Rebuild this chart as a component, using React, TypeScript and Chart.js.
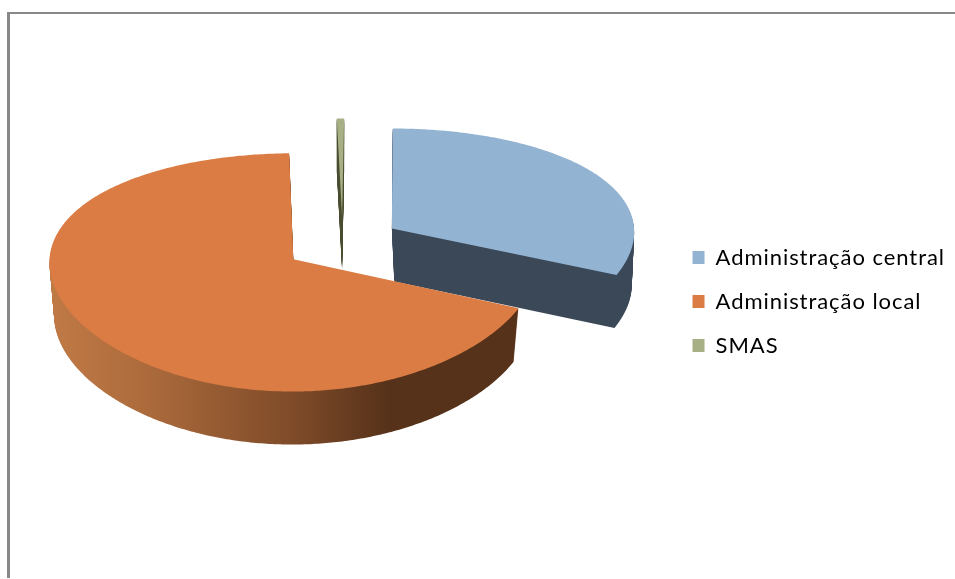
import React, { useEffect, useRef } from "react";
import { Chart, registerables } from "chart.js";

Chart.register(...registerables);

const categories = ["Administração central", "Administração local", "SMAS"];
const shares = [31.4, 68.1, 0.5];
const topColors = ["#93b3d2", "#da7c43", "#a7b085"];
const wallStops = [
  [[0, "#3b4857"], [1, "#3b4857"]],
  [[0, "#c07a46"], [0.2, "#ad6b3c"], [0.53, "#7d4a28"], [0.72, "#57321a"], [1, "#57321a"]],
  [[0, "#4a4c30"], [1, "#4a4c30"]],
];

const EXPLODE = 59;
const RADIUS = 243;
const SCREEN_CX = 342.5;
const SCREEN_CY = 243.5;
const TILT = 0.47;
const PERSPECTIVE_Y = 0.00045;
const PERSPECTIVE_X = 0.0001;
const DEPTH = 53;
const SHRINK = 0.02;
const LEGEND_SPACING = "0.95px";

const pie3d = {
  id: "pie3d",
  beforeDatasetsDraw(chart: any) {
    const ctx = chart.ctx;
    const arcs = chart.getDatasetMeta(0).data;
    const polys = arcs.map((arc: any) => {
      const { startAngle, endAngle, outerRadius } = arc.getProps(["startAngle", "endAngle", "outerRadius"], true);
      const mid = (startAngle + endAngle) / 2;
      const ax = Math.cos(mid) * EXPLODE;
      const ay = Math.sin(mid) * EXPLODE;
      const project = (X: number, Y: number) => [
        SCREEN_CX + X / (1 - PERSPECTIVE_X * Y),
        SCREEN_CY + (TILT * Y) / (1 - PERSPECTIVE_Y * Y),
      ];
      const pts = [project(ax, ay)];
      const steps = Math.max(2, Math.ceil((endAngle - startAngle) * 90));
      for (let i = 0; i <= steps; i++) {
        const a = startAngle + ((endAngle - startAngle) * i) / steps;
        pts.push(project(ax + Math.cos(a) * outerRadius, ay + Math.sin(a) * outerRadius));
      }
      return pts;
    });
    const trace = (pts: number[][], dy: number, f: number, c: number) => {
      ctx.beginPath();
      pts.forEach((p, i) => {
        const px = c + (p[0] - c) * f;
        if (i === 0) ctx.moveTo(px, p[1] + dy);
        else ctx.lineTo(px, p[1] + dy);
      });
      ctx.closePath();
    };
    const order = [2, 0, 1];
    ctx.save();
    for (const i of order) {
      const pts = polys[i];
      const xs = pts.map((p: number[]) => p[0]);
      const minX = Math.min(...xs);
      const maxX = Math.max(...xs);
      const c = (minX + maxX) / 2;
      const g = ctx.createLinearGradient(minX, 0, maxX, 0);
      wallStops[i].forEach((s: any) => g.addColorStop(s[0], s[1]));
      ctx.fillStyle = g;
      for (let d = DEPTH; d >= 1; d--) {
        trace(pts, d, 1 - (SHRINK * d) / DEPTH, c);
        ctx.fill();
      }
      ctx.fillStyle = topColors[i];
      trace(pts, 0, 1, c);
      ctx.fill();
    }
    ctx.restore();
    return false;
  },
};

const letterSpacing = {
  id: "legendSpacing",
  beforeLayout(chart: any) {
    chart.ctx.letterSpacing = LEGEND_SPACING;
  },
  beforeDraw(chart: any) {
    chart.ctx.letterSpacing = LEGEND_SPACING;
  },
};

export default function App() {
  const ref = useRef<HTMLCanvasElement>(null);
  useEffect(() => {
    const chart = new Chart(ref.current as HTMLCanvasElement, {
      type: "pie",
      data: {
        labels: categories,
        datasets: [{ data: shares, backgroundColor: topColors, borderWidth: 0, radius: RADIUS, offset: EXPLODE } as any],
      },
      options: {
        responsive: false,
        animation: false,
        rotation: 0.5,
        layout: { padding: { top: 24, right: 0, bottom: 0, left: 0 } },
        plugins: {
          tooltip: { enabled: false },
          legend: {
            position: "right",
            labels: {
              boxWidth: 12,
              boxHeight: 13,
              padding: 22,
              color: "#000",
              font: { family: "Lato", size: 22 },
            },
          },
        },
      } as any,
      plugins: [pie3d, letterSpacing],
    });
    return () => chart.destroy();
  }, []);
  return (
    <div style={{ position: "fixed", left: 0, top: 0, width: 955, height: 579, background: "#fff", overflow: "hidden" }}>
      <canvas ref={ref} width={955} height={579} style={{ display: "block" }} />
      <div style={{ position: "absolute", left: 7, top: 12, width: 948, height: 2, background: "#888" }} />
      <div style={{ position: "absolute", left: 7, top: 12, width: 3, height: 566, background: "#888" }} />
    </div>
  );
}
